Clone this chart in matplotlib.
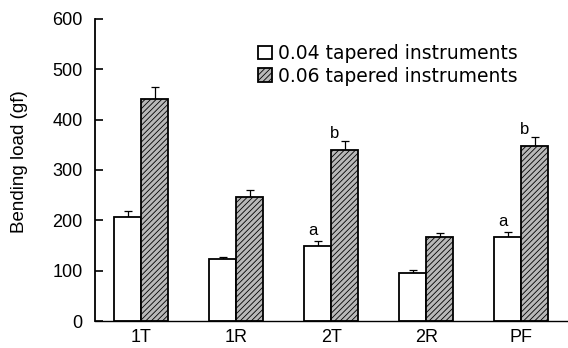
import matplotlib
matplotlib.use("Agg")
import matplotlib.pyplot as plt
import numpy as np

categories = ["1T", "1R", "2T", "2R", "PF"]
series_names = ["0.04 tapered instruments", "0.06 tapered instruments"]
vals_004 = [207, 123, 150, 96, 167]
err_004 = [11, 5, 8, 5, 9]
vals_006 = [442, 247, 340, 167, 347]
err_006 = [22, 13, 18, 8, 19]
letters_004 = ["", "", "a", "", "a"]
letters_006 = ["", "", "b", "", "b"]
yticks = [0, 100, 200, 300, 400, 500, 600]

plt.rcParams['hatch.color'] = '#2a2a2a'
plt.rcParams['hatch.linewidth'] = 0.6

W, H = 568, 348
fig = plt.figure(figsize=(W/100, H/100), dpi=100)
ax = fig.add_axes([95/W, (H-321)/H, (W-95)/W, (321-19)/H])

x = np.arange(len(categories))
bw = 0.284
b1 = ax.bar(x - bw/2, vals_004, bw, color='white', edgecolor='black', linewidth=1.3,
            label=series_names[0], zorder=2)
b2 = ax.bar(x + bw/2, vals_006, bw, color='#b8b8b8', edgecolor='black', linewidth=1.3,
            hatch='//////', label=series_names[1], zorder=2)
ax.errorbar(x - bw/2, vals_004, yerr=[np.zeros(len(x)), err_004], fmt='none',
            ecolor='black', elinewidth=0.9, capsize=3, capthick=0.9, zorder=1)
ax.errorbar(x + bw/2, vals_006, yerr=[np.zeros(len(x)), err_006], fmt='none',
            ecolor='black', elinewidth=0.9, capsize=3, capthick=0.9, zorder=1)

for i in range(len(x)):
    if letters_004[i]:
        ax.text(x[i] - bw/2 - 0.05, vals_004[i] + err_004[i] + 6, letters_004[i],
                ha='center', va='bottom', fontsize=12, family='Liberation Sans')
    if letters_006[i]:
        ax.text(x[i] + bw/2 - 0.11, vals_006[i] + err_006[i] + 0, letters_006[i],
                ha='center', va='bottom', fontsize=12, family='Liberation Sans')

ax.set_xlim(-0.484, 4.49)
ax.set_ylim(0, 600)
ax.set_yticks(yticks)
ax.set_yticklabels([str(t) for t in yticks], family='Liberation Sans', fontsize=13)
ax.set_xticks(x)
ax.set_xticklabels(categories, family='Liberation Sans', fontsize=13)
ax.tick_params(axis='y', direction='in', length=6, width=1.2, pad=9)
ax.tick_params(axis='x', length=0, pad=6)
ax.spines['top'].set_visible(False)
ax.spines['right'].set_visible(False)
ax.spines['left'].set_linewidth(1.3)
ax.spines['bottom'].set_linewidth(1.0)
ax.set_ylabel("Bending load (gf)", family='Liberation Sans', fontsize=13.5)
ax.yaxis.set_label_coords((28 - 95) / (W - 95), (321 - 161.5) / (321 - 19))

leg = ax.legend(loc='upper left', bbox_to_anchor=((258-95)/(W-95), 1 - (44-19)/(321-19)),
                frameon=False, prop={'family': 'DejaVu Sans', 'size': 13.5},
                handlelength=0.75, handleheight=0.75, handletextpad=0.3, labelspacing=0.2,
                borderaxespad=0, borderpad=0)

fig.savefig("out.png", dpi=100)
